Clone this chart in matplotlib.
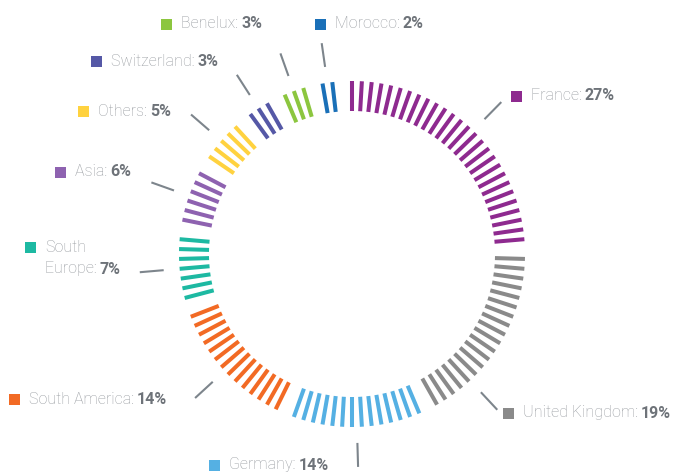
import matplotlib.pyplot as plt
from matplotlib.patches import Rectangle
import numpy as np

# Données
countries = ["France", "United Kingdom", "Germany", "South America", "South\nEurope",
             "Asia", "Others", "Switzerland", "Benelux", "Morocco"]
shares = [27, 19, 14, 14, 7, 6, 5, 3, 3, 2]
colors = ["#8E2A8F", "#8A8A8A", "#55B0E3", "#F26A24", "#1DB9A2",
          "#8E62B0", "#FFD23F", "#5558A6", "#8CC63F", "#1A70B8"]

# Position des étiquettes (pixels : bord gauche du carré, centre vertical)
label_pos = [(511, 96), (503, 413), (209, 465), (9, 399), (25, 247),
             (55, 172), (78, 111), (91, 61), (161, 24), (315, 24)]
leader_angle = {1: -47.0, 0: 45.5}

W, H = 673, 472
cx, cy = 352, H - 254
r_in, r_out = 143, 173
n_slots = sum(shares) + len(shares)
step = 360.0 / n_slots

fig = plt.figure(figsize=(W / 100, H / 100), dpi=100)
ax = fig.add_axes([0, 0, 1, 1])
ax.set_xlim(0, W)
ax.set_ylim(0, H)
ax.axis("off")

font = "Roboto"
fs = 11.5
name_col = "#979BA0"
val_col = "#6E7379"

fig.canvas.draw()
renderer = fig.canvas.get_renderer()

slot = 0
for i, (name, val, col) in enumerate(zip(countries, shares, colors)):
    # tirets radiaux
    for k in range(val):
        a = np.deg2rad(90 - (slot + k) * step)
        ax.plot([cx + r_in * np.cos(a), cx + r_out * np.cos(a)],
                [cy + r_in * np.sin(a), cy + r_out * np.sin(a)],
                color=col, lw=2.9, solid_capstyle="butt")
    mid = 90 - (slot + (val - 1) / 2) * step
    slot += val + 1

    # trait de rappel
    a = np.deg2rad(leader_angle.get(i, mid))
    ax.plot([cx + 189 * np.cos(a), cx + 213 * np.cos(a)],
            [cy + 189 * np.sin(a), cy + 213 * np.sin(a)],
            color="#7D858C", lw=1.5, solid_capstyle="butt")

    # étiquette
    sx, sy = label_pos[i]
    y = H - sy
    ax.add_patch(Rectangle((sx, y - 5.5), 11, 11, color=col, lw=0))
    lines = name.split("\n")
    tx = sx + 20
    for j, line in enumerate(lines[:-1]):
        ax.text(tx, y - j * 22, line, fontsize=fs, family=font, weight="light",
                color=name_col, va="center", ha="left")
    yl = y - (len(lines) - 1) * 22
    t = ax.text(tx, yl, lines[-1] + ": ", fontsize=fs, family=font, weight="light",
                color=name_col, va="center", ha="left")
    bb = t.get_window_extent(renderer)
    x1 = ax.transData.inverted().transform((bb.x1, bb.y0))[0]
    ax.text(x1 - 1, yl, f"{val}%", fontsize=fs, family=font, weight="bold",
            color=val_col, va="center", ha="left")

fig.savefig("out.png", dpi=100)
